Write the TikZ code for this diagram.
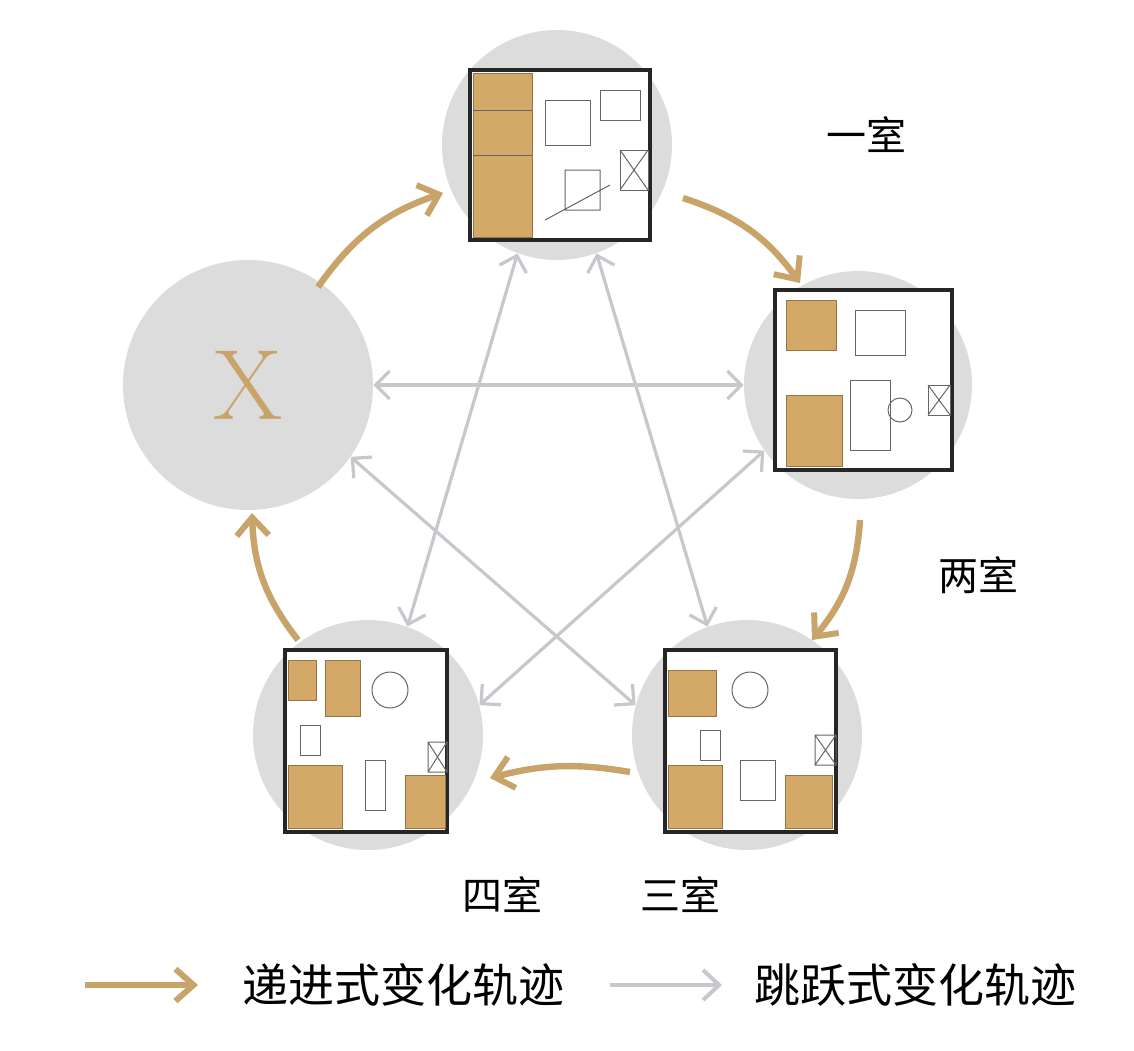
\documentclass[tikz,border=0pt]{standalone}
\usepackage{fontspec}
\newfontfamily\cjk{Noto Sans CJK SC}
\usetikzlibrary{arrows.meta}
\definecolor{gold}{HTML}{C9A46A}
\definecolor{sgray}{HTML}{C6C8CC}
\definecolor{cfill}{HTML}{DCDCDD}
\definecolor{room}{HTML}{D4A867}
\tikzset{
  disc/.style={circle,fill=cfill,minimum size=#1,inner sep=0pt},
  prog/.style={draw=gold,line width=3.2pt,-{Straight Barb[length=9pt,width=16pt,line width=3pt]}},
  jump/.style={draw=sgray,line width=1.6pt,{Straight Barb[length=7pt,width=14pt,line width=1.6pt]}-{Straight Barb[length=7pt,width=14pt,line width=1.6pt]}},
  lab/.style={font=\cjk\fontsize{20}{24}\selectfont},
  wall/.style={draw=black!85,line width=1.6pt,fill=white},
  rm/.style={fill=room,draw=room!70!black,line width=0.5pt},
  furn/.style={draw=black!60,line width=0.5pt}
}
\begin{document}
\begin{tikzpicture}[x=0.5pt,y=-0.5pt]
\useasboundingbox (0,0) rectangle (1134,1050);
\fill[white] (0,0) rectangle (1134,1050);
% circles
\node[disc=115pt] (top) at (557,145) {};
\node[disc=114pt] (rgt) at (858,385) {};
\node[disc=115pt] (br) at (747,735) {};
\node[disc=115pt] (bl) at (368,735) {};
\node[disc=125pt] (x) at (248,385) {};
\node[font=\fontsize{50}{52}\selectfont, text=gold] at (x) {X};
% jump lines
\draw[jump] (x.east) -- (rgt.west);
\draw[jump] (top.250) -- (bl.70);
\draw[jump] (top.290) -- (br.110);
\draw[jump] (x.-35) -- (br.165);
\draw[jump] (rgt.-145) -- (bl.15);
% progressive arcs
\coordinate (a1) at (318,287); \coordinate (a2) at (443,193);
\draw[prog] (a1) to[bend left=18] (a2);
\coordinate (b1) at (683,198); \coordinate (b2) at (800,283);
\draw[prog] (b1) to[bend left=18] (b2);
\coordinate (c1) at (860,520); \coordinate (c2) at (812,640);
\draw[prog] (c1) to[bend left=18] (c2);
\coordinate (d1) at (630,772); \coordinate (d2) at (490,778);
\draw[prog] (d1) to[bend right=12] (d2);
\coordinate (e1) at (298,640); \coordinate (e2) at (252,513);
\draw[prog] (e1) to[bend left=18] (e2);
% plan top
\draw[wall] (470,70) rectangle (650,240);
\fill[rm] (473,73) rectangle (532,237);
\draw[furn] (473,155) -- (532,155) (473,110)--(532,110);
\draw[furn] (545,100) rectangle (590,145) (600,90) rectangle (640,120) (620,150) rectangle (648,190);
\draw[furn] (620,150)--(648,190) (648,150)--(620,190);
\draw[furn] (565,170) rectangle (600,210) (545,220)--(610,185);
% plan right
\draw[wall] (775,290) rectangle (952,470);
\fill[rm] (786,300) rectangle (836,350);
\fill[rm] (786,395) rectangle (842,466);
\draw[furn] (855,310) rectangle (905,355) (850,380) rectangle (890,450) (928,385) rectangle (950,415);
\draw[furn] (928,385)--(950,415) (950,385)--(928,415) (900,410) circle (12);
% plan bottom right
\draw[wall] (665,650) rectangle (836,832);
\fill[rm] (668,670) rectangle (716,716);
\fill[rm] (668,765) rectangle (722,828);
\fill[rm] (785,775) rectangle (832,828);
\draw[furn] (750,690) circle (18) (815,735) rectangle (836,765) (815,735)--(836,765) (836,735)--(815,765);
\draw[furn] (740,760) rectangle (775,800) (700,730) rectangle (720,760);
% plan bottom left
\draw[wall] (285,650) rectangle (447,832);
\fill[rm] (288,660) rectangle (316,700);
\fill[rm] (325,660) rectangle (360,716);
\fill[rm] (288,765) rectangle (342,828);
\fill[rm] (405,775) rectangle (445,828);
\draw[furn] (390,690) circle (18) (428,742) rectangle (447,772) (428,742)--(447,772) (447,742)--(428,772);
\draw[furn] (365,760) rectangle (385,810) (300,725) rectangle (320,755);
% labels
\node[lab] at (866,135) {一室};
\node[lab] at (978,575) {两室};
\node[lab] at (502,895) {四室};
\node[lab] at (680,895) {三室};
% legend
\coordinate (g1) at (85,985); \coordinate (g2) at (198,985);
\draw[prog] (g1) -- (g2);
\node[lab,font=\cjk\fontsize{23}{26}\selectfont] at (403,985) {递进式变化轨迹};
\coordinate (h1) at (610,985); \coordinate (h2) at (722,985);
\draw[draw=sgray,line width=2.2pt,-{Straight Barb[length=8pt,width=15pt,line width=2pt]}] (h1) -- (h2);
\node[lab,font=\cjk\fontsize{23}{26}\selectfont] at (915,985) {跳跃式变化轨迹};
\end{tikzpicture}
\end{document}
